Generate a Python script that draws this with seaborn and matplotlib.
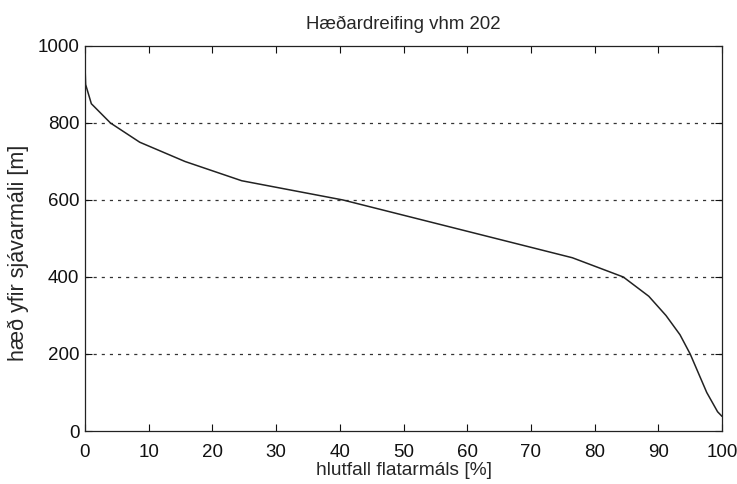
import matplotlib
matplotlib.use("Agg")
import pandas as pd
import seaborn as sns
from matplotlib import pyplot as plt

# area fraction [%] and elevation [m]
hlutfall = [0.0, 0.1, 1.0, 4.0, 8.6, 15.7, 24.6, 40.5, 52.5, 64.5, 76.5, 84.5,
            88.5, 91.2, 93.4, 95.0, 96.3, 97.6, 99.3, 100.0]
haed = [950, 900, 850, 800, 750, 700, 650, 600, 550, 500, 450, 400,
        350, 300, 250, 200, 150, 100, 50, 38]

x_ticks = list(range(0, 101, 10))
y_ticks = list(range(0, 1001, 200))

df = pd.DataFrame({'hlutfall': hlutfall, 'haed': haed})

sns.set_style('ticks')
plt.rcParams['font.family'] = ['Liberation Sans', 'DejaVu Sans']

fig = plt.figure(figsize=(7.37, 4.84), dpi=100)
ax = fig.add_axes([0.1153, 0.1095, 0.8644, 0.7955])

sns.lineplot(data=df, x='hlutfall', y='haed', ax=ax, color='#222222', linewidth=1.1,
             sort=False, estimator=None)

ax.set_xlim(0, 100)
ax.set_ylim(0, 1000)
ax.set_xticks(x_ticks)
ax.set_yticks(y_ticks)
for y in y_ticks[1:-1]:
    ax.axhline(y, color='#333333', linestyle=(0, (2.5, 4)), linewidth=0.9, zorder=0)

ax.tick_params(direction='in', top=True, right=True, length=5, width=0.8,
               labelsize=13.5, colors='#111111')
ax.tick_params(axis='x', pad=9)
ax.tick_params(axis='y', pad=4)
for s in ax.spines.values():
    s.set_visible(True)
    s.set_linewidth(0.9)
    s.set_color('#222222')

ax.set_title('Hæðardreifing vhm 202', fontsize=13.4, pad=12)
ax.set_xlabel('hlutfall flatarmáls [%]', fontsize=13.8, labelpad=1)
ax.set_ylabel('hæð yfir sjávarmáli [m]', fontsize=15.5)
ax.yaxis.set_label_coords(-0.088, 0.462)

fig.savefig('out.png', dpi=100)
